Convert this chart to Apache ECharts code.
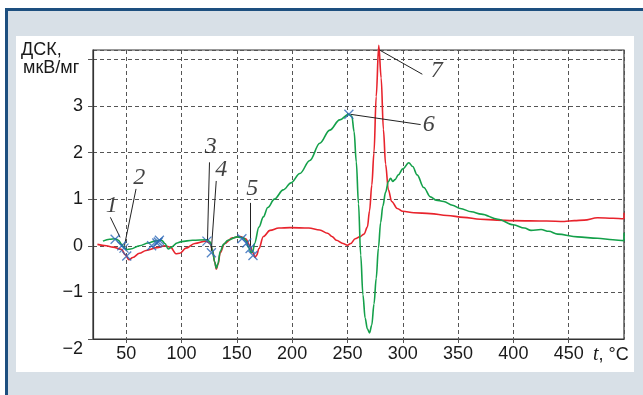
<!DOCTYPE html>
<html><head><meta charset="utf-8">
<script src="https://cdn.jsdelivr.net/npm/echarts@6/dist/echarts.min.js"></script>
<style>html,body{margin:0;padding:0;background:#fff}#c{width:643px;height:395px}</style>
</head><body><div id="c"></div>
<script>
// ---- data ----
const redT = [24,32,38,46,49,52.5,56,62,68,78,85,90,95,98.5,104,112,122,125.5,128,130,131.5,133,135,139,146,153,158,162,164.5,166.5,168,170,174,180,188,198,215,225,232,236,240,246,250,253,257,261,265,268,270,272,274,276,278.3,280.5,282.5,284.5,287,290,295,300,310,325,340,355,370,385,400,430,446,455,464,476,490,500,500];
const redV = [0.03,0.0,-0.03,-0.08,-0.19,-0.3,-0.25,-0.16,-0.1,-0.04,0.0,-0.03,-0.17,-0.16,-0.05,0.05,0.1,0.06,-0.08,-0.35,-0.5,-0.4,-0.15,0.05,0.17,0.2,0.15,0.0,-0.15,-0.25,-0.2,-0.06,0.2,0.33,0.38,0.39,0.38,0.34,0.27,0.2,0.12,0.05,0.01,0.05,0.15,0.19,0.25,0.4,0.75,1.3,2.0,3.2,4.3,3.6,2.5,1.75,1.2,0.95,0.8,0.74,0.71,0.69,0.65,0.61,0.57,0.55,0.54,0.53,0.52,0.54,0.55,0.6,0.59,0.58,0.71];
const greenT = [29,35,40,43,46,48,50.5,54,62,70,76,82,85,88,91,96,100,110,123,126,128,130,131.5,133,135,138,142,150,156,158,161,163,164.5,166,170,174,178,184,192,199,207,216,225,234,243,251,254,256,258,260,262,264,266,268,270,272,274,276,278,280,282,284.5,287,289,291,293,296,300,305.5,309,313,319,325,330,337,345,352,362,371,386,400,410,416,425,432,440,458,476,490,500,500];
const greenV = [0.1,0.14,0.15,0.12,0.03,-0.04,-0.08,-0.07,0.0,0.06,0.1,0.12,0.05,-0.07,-0.03,0.06,0.09,0.12,0.13,0.08,-0.1,-0.35,-0.48,-0.38,-0.12,0.03,0.12,0.19,0.17,0.12,-0.05,-0.15,-0.12,0.05,0.4,0.62,0.82,1.0,1.2,1.35,1.55,1.83,2.2,2.48,2.7,2.82,2.78,2.45,1.8,0.9,-0.2,-1.05,-1.55,-1.78,-1.87,-1.7,-1.25,-0.7,-0.05,0.5,0.85,1.15,1.38,1.45,1.38,1.42,1.52,1.65,1.78,1.7,1.52,1.25,1.05,0.98,0.95,0.87,0.8,0.73,0.68,0.57,0.45,0.38,0.33,0.35,0.31,0.25,0.19,0.16,0.13,0.11,0.28];
// cross markers
const crossT = [40,46,48,50.5,73,77.7,80,79,123,127,154.6,159,162,164.6,251.3];
const crossV = [0.14,0.0,-0.05,-0.22,0.0,0.06,0.12,0.08,0.1,-0.15,0.15,0.06,-0.06,-0.21,2.82];
// numbered annotations: label position, leader start, leader end
const noteText = ['1','2','3','4','5','6','7'];
const noteT = [36.9,61.9,126.5,136,164,323.4,330.7];
const noteV = [0.85,1.46,2.13,1.64,1.23,2.6,3.75];
const leadFrom = [[35.7,0.61],[58.9,1.22],[125.3,1.79],[131.4,1.39],[162.5,0.92],[316.2,2.6],[317.7,3.68]];
const leadTo = [[44.5,0.18],[48.4,0.0],[123.5,0.12],[126.9,-0.12],[162.5,0.0],[252.8,2.82],[279,4.2]];
const yTicks = [-2,-1,0,1,2,3];
const xTicks = [50,100,150,200,250,300,350,400,450];

const zip = (a,b)=>a.map((v,i)=>[v,b[i]]);
const chart = echarts.init(document.getElementById('c'), null, {renderer:'canvas'});
const FONT = '"Liberation Sans", Arial, sans-serif';
chart.setOption({
  animation:false,
  backgroundColor:'#ffffff',
  graphic:[
    {type:'rect', z:-10, shape:{x:6.5,y:9.5,width:660,height:420}, style:{fill:'#d8e0e7', stroke:'#1d4f7f', lineWidth:3}},
    {type:'rect', z:-9, shape:{x:16,y:36,width:618,height:336}, style:{fill:'#ffffff'}},
    {type:'text', left:21, top:41, style:{text:'ДСК,', font:'18px '+FONT, fill:'#1a1a1a'}},
    {type:'text', left:23, top:59, style:{text:'мкВ/мг', font:'18px '+FONT, fill:'#1a1a1a'}},
    {type:'text', left:593, top:345, style:{rich:{i:{fontFamily:'"Liberation Serif", serif', fontStyle:'italic', fontSize:20, fill:'#1a1a1a'}, n:{fontFamily:FONT, fontSize:18, fill:'#1a1a1a'}}, text:'{i|t}{n|, °C}'}}
  ],
  grid:{left:93, right:19, top:50, bottom:56, show:true, borderColor:'#333', borderWidth:1.2},
  xAxis:{type:'value', min:20, max:500, minInterval:50, maxInterval:50,
    axisLine:{show:true, onZero:false, lineStyle:{color:'#333', width:1.2}},
    axisTick:{show:true, length:4, lineStyle:{color:'#555'}},
    axisLabel:{margin:6, color:'#1a1a1a', fontSize:18, fontFamily:FONT, showMinLabel:false, showMaxLabel:false,
      formatter:v=> xTicks.includes(v)? String(v):''},
    splitLine:{show:true, lineStyle:{color:'#555', type:[4,3], width:1}}
  },
  yAxis:{type:'value', min:-2, max:4.2, interval:1,
    axisLine:{show:true, lineStyle:{color:'#333', width:1.2}},
    axisTick:{show:true, length:5, lineStyle:{color:'#555'}},
    axisLabel:{margin:10, color:'#1a1a1a', fontSize:18, fontFamily:FONT, showMaxLabel:false,
      formatter:v=> yTicks.includes(v)? (v===-2? '{low|\u22122}' : (v<0? '\u2212'+Math.abs(v) : String(v))) : '',
      rich:{low:{fontSize:18, fontFamily:FONT, color:'#1a1a1a', padding:[20,0,0,0]}}},
    splitLine:{show:true, lineStyle:{color:'#555', type:[4,3], width:1}}
  },
  series:[
    {type:'line', name:'red', data:zip(redT,redV), showSymbol:false, smooth:0.35, smoothMonotone:'x', clip:false,
      lineStyle:{color:'#e8232c', width:1.6}, z:3},
    {type:'line', name:'green', data:zip(greenT,greenV), showSymbol:false, smooth:0.35, smoothMonotone:'x',
      lineStyle:{color:'#14a04a', width:1.6}, z:4},
    {type:'scatter', name:'cross', data:zip(crossT,crossV), symbol:'path://M0,0L10,10M10,0L0,10', symbolSize:9,
      itemStyle:{color:'none', borderColor:'#2a66b8', borderWidth:1.3}, z:6, silent:true,
      markLine:{silent:true, symbol:['none','none'], animation:false, label:{show:false},
        lineStyle:{color:'#222', width:1, type:'solid'},
        data: leadFrom.map((p,i)=>[{coord:p},{coord:leadTo[i]}])}},
    {type:'scatter', name:'notes', data:noteT.map((t,i)=>({value:[t,noteV[i]], name:noteText[i]})), symbolSize:0, silent:true,
      label:{show:true, position:'inside', formatter:p=>p.name, fontFamily:'"Liberation Serif", "DejaVu Serif", serif', fontStyle:'italic', fontSize:24, color:'#111'}, z:7}
  ]
});
</script></body></html>
